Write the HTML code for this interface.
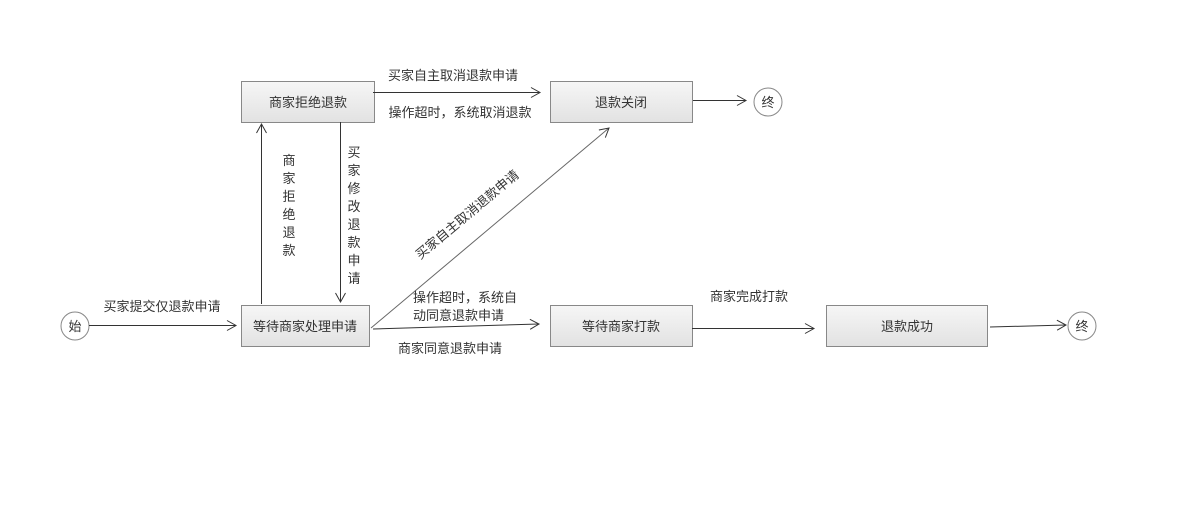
<!DOCTYPE html>
<html><head><meta charset="utf-8"><style>
html,body{margin:0;padding:0;background:#fff;}
svg{display:block;}
text{font-family:"Liberation Sans","Noto Sans CJK SC","WenQuanYi Zen Hei",sans-serif;font-size:13px;fill:#333;}
</style></head><body>
<svg width="1178" height="520" viewBox="0 0 1178 520" xmlns="http://www.w3.org/2000/svg">
<defs>
<linearGradient id="g" x1="0" y1="0" x2="0" y2="1"><stop offset="0" stop-color="#f6f6f6"/><stop offset="1" stop-color="#e2e2e2"/></linearGradient>
<marker id="a" markerWidth="12" markerHeight="12" refX="10" refY="6" orient="auto" markerUnits="userSpaceOnUse"><path d="M1,1 L10,6 L1,11" fill="none" stroke="#333" stroke-width="1"/></marker>
</defs>
<g stroke="#888" stroke-width="1" fill="url(#g)">
<rect x="241.5" y="81.5" width="133" height="41"/>
<rect x="550.5" y="81.5" width="142" height="41"/>
<rect x="241.5" y="305.5" width="128" height="41"/>
<rect x="550.5" y="305.5" width="142" height="41"/>
<rect x="826.5" y="305.5" width="161" height="41"/>
</g>
<g stroke="#888" fill="#fff">
<circle cx="75" cy="326" r="14"/>
<circle cx="768" cy="102" r="14"/>
<circle cx="1082" cy="326" r="14"/>
</g>
<g stroke="#333" stroke-width="1" fill="none" marker-end="url(#a)">
<line x1="89" y1="325.5" x2="236" y2="325.5"/>
<line x1="373" y1="92.5" x2="540" y2="92.5"/>
<line x1="693" y1="100.5" x2="746" y2="100.5"/>
<line x1="261.5" y1="304" x2="261.5" y2="124"/>
<line x1="340.5" y1="122" x2="340.5" y2="302"/>
<line x1="371" y1="328" x2="609" y2="128" stroke="#666"/>
<line x1="373" y1="329" x2="539" y2="324"/>
<line x1="692" y1="328.5" x2="814" y2="328.5"/>
<line x1="990" y1="327" x2="1066" y2="325"/>
</g>
<g text-anchor="middle">
<text x="308" y="107">商家拒绝退款</text>
<text x="621" y="107">退款关闭</text>
<text x="305" y="331">等待商家处理申请</text>
<text x="621" y="331">等待商家打款</text>
<text x="907" y="331">退款成功</text>
<text x="75" y="331">始</text>
<text x="768" y="107">终</text>
<text x="1082" y="331">终</text>
<text x="162" y="311">买家提交仅退款申请</text>
<text x="453" y="80">买家自主取消退款申请</text>
<text x="460" y="117">操作超时，系统取消退款</text>
<text x="749" y="301">商家完成打款</text>
<text x="450" y="353">商家同意退款申请</text>
</g>
<text x="413" y="302">操作超时，系统自</text>
<text x="413" y="320">动同意退款申请</text>
<text transform="translate(470,218) rotate(-40)" text-anchor="middle">买家自主取消退款申请</text>
<g text-anchor="middle">
<text x="289" y="165">商</text><text x="289" y="183">家</text><text x="289" y="201">拒</text><text x="289" y="219">绝</text><text x="289" y="237">退</text><text x="289" y="255">款</text>
<text x="354" y="157">买</text><text x="354" y="175">家</text><text x="354" y="193">修</text><text x="354" y="211">改</text><text x="354" y="229">退</text><text x="354" y="247">款</text><text x="354" y="265">申</text><text x="354" y="283">请</text>
</g>
</svg>
</body></html>
